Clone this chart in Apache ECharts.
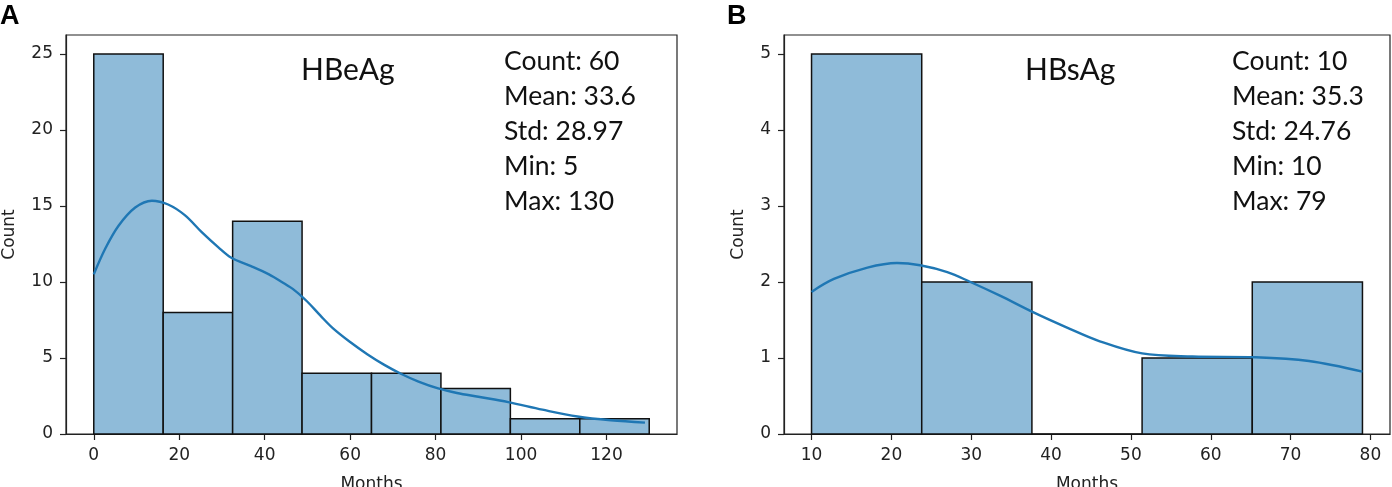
<!DOCTYPE html>
<html>
<head>
<meta charset="utf-8">
<script src="https://cdn.jsdelivr.net/npm/echarts@6/dist/echarts.min.js"></script>
<style>
  html, body { margin: 0; padding: 0; background: #fff; }
  #chart { width: 1392px; height: 487px; }
</style>
</head>
<body>
<div id="chart"></div>
<script>
// panel A - HBeAg
var edgesA = [0, 16.25, 32.5, 48.75, 65, 81.25, 97.5, 113.75, 130];
var countsA = [25, 8, 14, 4, 4, 3, 1, 1];
var kdeA = [[0, 10.5], [2.7, 12.2], [5.8, 13.7], [9.7, 14.9], [13.6, 15.35], [17.4, 15.1],
            [21.3, 14.4], [25.2, 13.3], [29.1, 12.3], [32.2, 11.6], [36.8, 11.05], [41, 10.5],
            [44, 10.0], [47, 9.45], [50, 8.7], [53, 7.8], [56, 6.95], [60, 6.05], [64, 5.25],
            [68, 4.55], [72, 3.95], [76, 3.45], [80.6, 3.0], [85, 2.7], [90, 2.45], [97, 2.1],
            [105, 1.6], [113.2, 1.15], [121, 0.9], [129, 0.75]];
var xTicksA = [0, 20, 40, 60, 80, 100, 120];
var yTicksA = [0, 5, 10, 15, 20, 25];
var statsA = ['Count: 60', 'Mean: 33.6', 'Std: 28.97', 'Min: 5', 'Max: 130'];

// panel B - HBsAg
var edgesB = [10, 23.8, 37.6, 51.4, 65.2, 79];
var countsB = [5, 2, 0, 1, 2];
var kdeB = [[10, 1.87], [12.8, 2.04], [17, 2.19], [20.7, 2.25], [23.6, 2.22], [27, 2.13],
            [29.9, 2.0], [33.6, 1.82], [37.8, 1.6], [42, 1.4], [46.1, 1.22], [51.4, 1.06],
            [57.7, 1.02], [65.6, 1.01], [72.3, 0.96], [79, 0.82]];
var xTicksB = [10, 20, 30, 40, 50, 60, 70, 80];
var yTicksB = [0, 1, 2, 3, 4, 5];
var statsB = ['Count: 10', 'Mean: 35.3', 'Std: 24.76', 'Min: 10', 'Max: 79'];

var chart = echarts.init(document.getElementById('chart'));

var tickFont = 'DejaVu Sans';
var statFont = 'Lato';

function binData(edges, counts) {
    var out = [];
    for (var i = 0; i < counts.length; i++) {
        out.push([edges[i], edges[i + 1], counts[i]]);
    }
    return out;
}

function renderBar(params, api) {
    var top = api.coord([api.value(0), api.value(2)]);
    var bot = api.coord([api.value(1), 0]);
    return {
        type: 'rect',
        shape: { x: top[0], y: top[1], width: bot[0] - top[0], height: bot[1] - top[1] },
        style: { fill: '#8fbbd9', stroke: '#111', lineWidth: 1.5 }
    };
}

function xAxisFor(idx, min, max, ticks) {
    return {
        type: 'value', gridIndex: idx, min: min, max: max,
        name: 'Months', nameLocation: 'middle', nameGap: 42,
        nameTextStyle: { fontFamily: tickFont, fontSize: 17, color: '#222' },
        axisLine: { show: true, onZero: false, lineStyle: { color: '#222', width: 1.2 } },
        axisTick: { show: true, length: 6, customValues: ticks, lineStyle: { color: '#222', width: 1.2 } },
        axisLabel: { customValues: ticks, margin: 13, fontFamily: tickFont, fontSize: 17, color: '#222' },
        splitLine: { show: false }
    };
}

function yAxisFor(idx, max, ticks, gap) {
    return {
        type: 'value', gridIndex: idx, min: 0, max: max,
        name: 'Count', nameLocation: 'middle', nameRotate: 90, nameGap: gap,
        nameTextStyle: { fontFamily: tickFont, fontSize: 17, color: '#222' },
        axisLine: { show: true, onZero: false, lineStyle: { color: '#222', width: 1.2 } },
        axisTick: { show: true, length: 6, customValues: ticks, lineStyle: { color: '#222', width: 1.2 } },
        axisLabel: { customValues: ticks, margin: 13, fontFamily: tickFont, fontSize: 17, color: '#222' },
        splitLine: { show: false }
    };
}

var option = {
    animation: false,
    backgroundColor: '#fff',
    grid: [
        { left: 66, top: 35, width: 611, height: 399, outerBoundsMode: 'none', containLabel: false,
          show: true, borderColor: '#222', borderWidth: 1.2 },
        { left: 784, top: 35, width: 606, height: 399, outerBoundsMode: 'none', containLabel: false,
          show: true, borderColor: '#222', borderWidth: 1.2 }
    ],
    xAxis: [
        xAxisFor(0, -6.5, 136.5, xTicksA),
        xAxisFor(1, 6.55, 82.45, xTicksB)
    ],
    yAxis: [
        yAxisFor(0, 26.25, yTicksA, 48),
        yAxisFor(1, 5.25, yTicksB, 37)
    ],
    graphic: [
        { type: 'text', left: 0, top: 3, style: { text: 'A', fontFamily: 'Liberation Sans', fontWeight: 'bold', fontSize: 27, fill: '#000' } },
        { type: 'text', left: 727, top: 3, style: { text: 'B', fontFamily: 'Liberation Sans', fontWeight: 'bold', fontSize: 27, fill: '#000' } },
        { type: 'text', left: 301, top: 55, style: { text: 'HBeAg', fontFamily: statFont, fontSize: 30, fill: '#111' } },
        { type: 'text', left: 1025, top: 55, style: { text: 'HBsAg', fontFamily: statFont, fontSize: 30, fill: '#111' } },
        { type: 'text', left: 504, top: 44, style: { text: statsA.join('\n'), fontFamily: statFont, fontSize: 26.5, lineHeight: 35, fill: '#111' } },
        { type: 'text', left: 1232, top: 44, style: { text: statsB.join('\n'), fontFamily: statFont, fontSize: 26.5, lineHeight: 35, fill: '#111' } }
    ],
    series: [
        {
            type: 'custom', xAxisIndex: 0, yAxisIndex: 0, z: 2,
            renderItem: renderBar, encode: { x: [0, 1], y: 2 },
            data: binData(edgesA, countsA)
        },
        {
            type: 'line', xAxisIndex: 0, yAxisIndex: 0, z: 3,
            smooth: 0.35, showSymbol: false, symbol: 'none',
            lineStyle: { color: '#1f77b4', width: 2.4 },
            data: kdeA
        },
        {
            type: 'custom', xAxisIndex: 1, yAxisIndex: 1, z: 2,
            renderItem: renderBar, encode: { x: [0, 1], y: 2 },
            data: binData(edgesB, countsB)
        },
        {
            type: 'line', xAxisIndex: 1, yAxisIndex: 1, z: 3,
            smooth: 0.35, showSymbol: false, symbol: 'none',
            lineStyle: { color: '#1f77b4', width: 2.4 },
            data: kdeB
        }
    ]
};

chart.setOption(option);
</script>
</body>
</html>
